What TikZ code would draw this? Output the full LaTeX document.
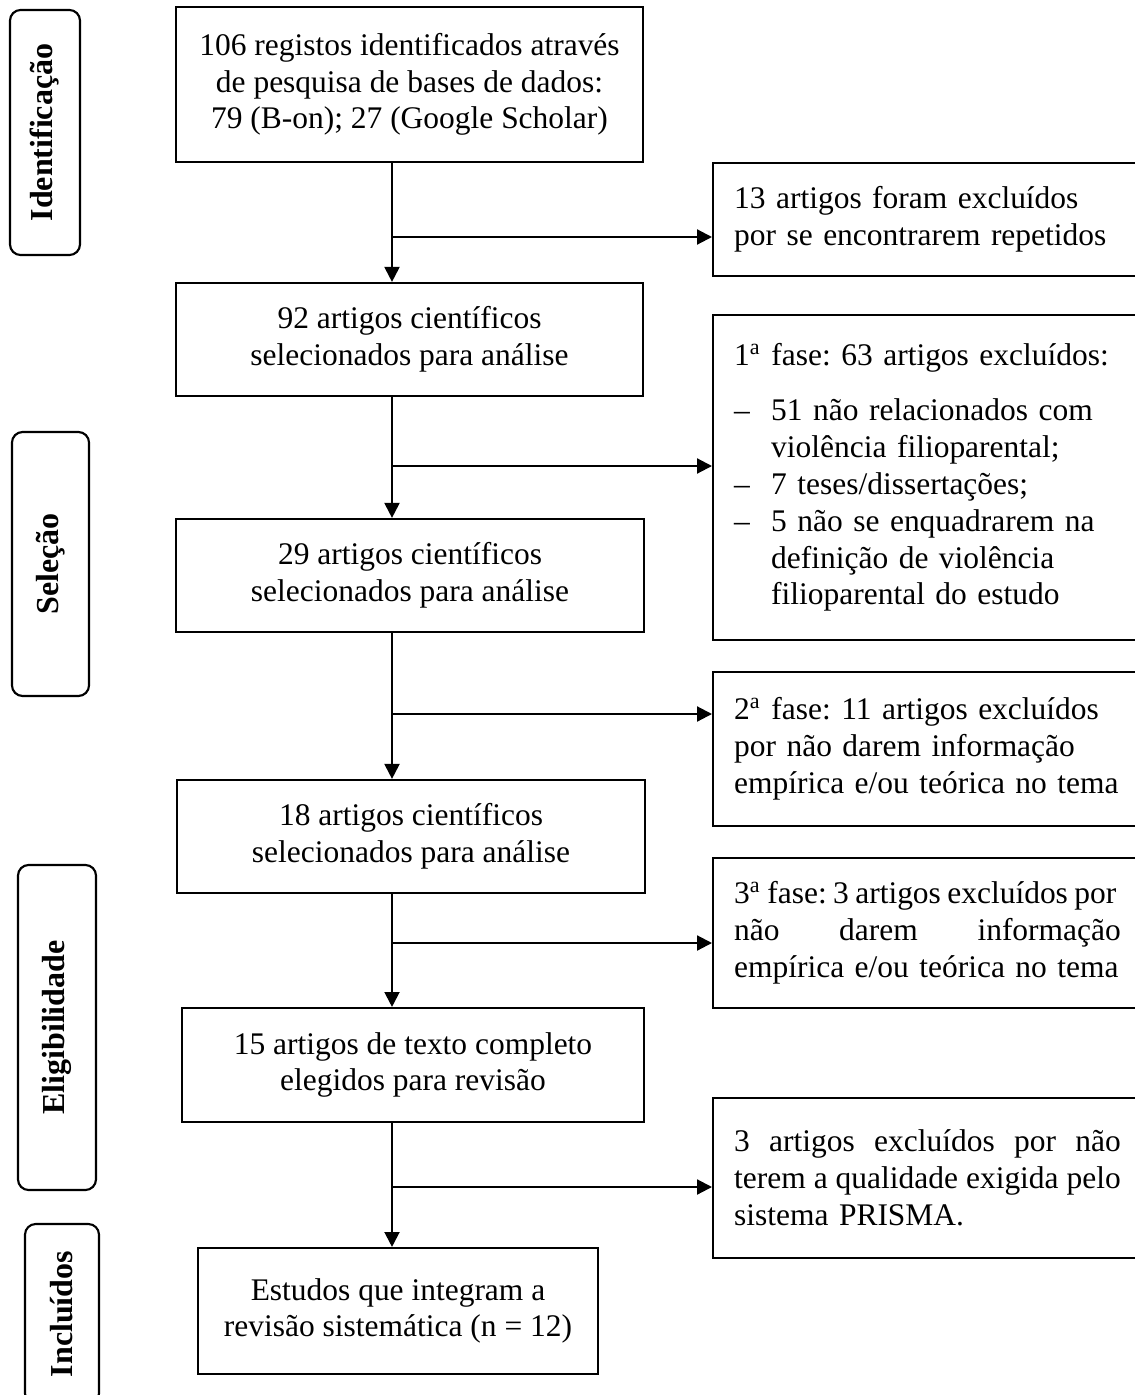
\documentclass[tikz,border=0pt]{standalone}
\usepackage{fontspec}
\setmainfont{Liberation Serif}
\usetikzlibrary{arrows.meta, positioning, calc}
\tikzset{
  stage/.style={draw,line width=0.8pt,align=center,inner sep=0pt,font=\fontsize{11.8}{13.8}\selectfont\frenchspacing},
  excl/.style={draw,line width=0.8pt,align=left,text width=146pt,inner xsep=7.9pt,inner ysep=0pt,anchor=west,font=\fontsize{11.8}{13.8}\selectfont\frenchspacing},
  phase/.style={draw,line width=0.8pt,rounded corners=4pt,rotate=90,inner sep=0pt,font=\fontsize{12}{13.8}\selectfont\bfseries},
  flow/.style={line width=0.8pt,-{Triangle[length=5.6pt,width=5.6pt]}},
}

\begin{document}
\begin{tikzpicture}[x=0.375pt,y=-0.375pt]
  \useasboundingbox (0,0) rectangle (1135,1395);
  % fases
  \node[phase,minimum width=91.9pt,minimum height=26.25pt] (ident) at (45,132.5) {Identificação};
  \node[phase,minimum width=99pt,minimum height=28.9pt] (selec) at (50.5,564) {Seleção};
  \node[phase,minimum width=121.9pt,minimum height=29.25pt] (eleg) at (57,1027.5) {Eligibilidade};
  \node[phase,minimum width=67.5pt,minimum height=27.75pt] (incl) at (62,1314) {Incluídos};
  % fluxo principal
  \node[stage,minimum width=175.1pt,minimum height=58.1pt] (B1) at (409.5,84.5) {106 registos identificados através\\de pesquisa de bases de dados:\\79 (B-on); 27 (Google Scholar)};
  \node[stage,minimum width=175.1pt,minimum height=42.4pt] (B2) at (409.5,339.5) {92 artigos científicos\\selecionados para análise};
  \node[stage,minimum width=175.5pt,minimum height=42.4pt] (B3) at (410,575.5) {29 artigos científicos\\selecionados para análise};
  \node[stage,minimum width=175.5pt,minimum height=42.4pt] (B4) at (411,836.5) {18 artigos científicos\\selecionados para análise};
  \node[stage,minimum width=173.25pt,minimum height=42.75pt] (B5) at (413,1065) {15 artigos de texto completo\\elegidos para revisão};
  \node[stage,minimum width=150pt,minimum height=47.25pt] (B6) at (398,1311) {Estudos que integram a\\revisão sistemática (n = 12)};
  % exclusoes
  \node[excl,minimum height=42.4pt] (R1) at (712,219.5) {\mbox{13 artigos foram excluídos}\\\mbox{por se encontrarem repetidos}};
  \node[excl,minimum height=121.9pt] (R2) at (712,477.5) {\mbox{1\textsuperscript{a} fase: 63 artigos excluídos:}\\[6.9pt]
    \mbox{\makebox[13.9pt][l]{–}51 não relacionados com}\\
    \mbox{\hspace*{13.9pt}violência filioparental;}\\
    \mbox{\makebox[13.9pt][l]{–}7 teses/dissertações;}\\
    \mbox{\makebox[13.9pt][l]{–}5 não se enquadrarem na}\\
    \mbox{\hspace*{13.9pt}definição de violência}\\
    \mbox{\hspace*{13.9pt}filioparental do estudo}};
  \node[excl,minimum height=57.75pt] (R3) at (712,749) {\mbox{2\textsuperscript{a} fase: 11 artigos excluídos}\\\mbox{por não darem informação}\\\mbox{empírica e/ou teórica no tema}};
  \node[excl,minimum height=56.25pt] (R4) at (712,933) {\mbox{\spaceskip=2.4pt\relax 3\textsuperscript{a} fase: 3 artigos excluídos por}\\\makebox[145pt][l]{não\hfill darem\hfill informação}\\\mbox{empírica e/ou teórica no tema}};
  \node[excl,minimum height=60pt] (R5) at (712,1178) {\makebox[145pt][l]{3\hfill artigos\hfill excluídos\hfill por\hfill não}\\\makebox[145pt][l]{terem\hfill a\hfill qualidade\hfill exigida\hfill pelo}\\\mbox{sistema PRISMA.}};
  % setas
  \coordinate (j1) at (392,237);
  \coordinate (j2) at (392,466);
  \coordinate (j3) at (392,714);
  \coordinate (j4) at (392,943);
  \coordinate (j5) at (392,1187);
  \draw[flow] (B1.south -| j1) -- (B2.north -| j1);
  \draw[flow] (B2.south -| j2) -- (B3.north -| j2);
  \draw[flow] (B3.south -| j3) -- (B4.north -| j3);
  \draw[flow] (B4.south -| j4) -- (B5.north -| j4);
  \draw[flow] (B5.south -| j5) -- (B6.north -| j5);
  \draw[flow] (j1) -- (j1 -| R1.west);
  \draw[flow] (j2) -- (j2 -| R2.west);
  \draw[flow] (j3) -- (j3 -| R3.west);
  \draw[flow] (j4) -- (j4 -| R4.west);
  \draw[flow] (j5) -- (j5 -| R5.west);
\end{tikzpicture}
\end{document}
